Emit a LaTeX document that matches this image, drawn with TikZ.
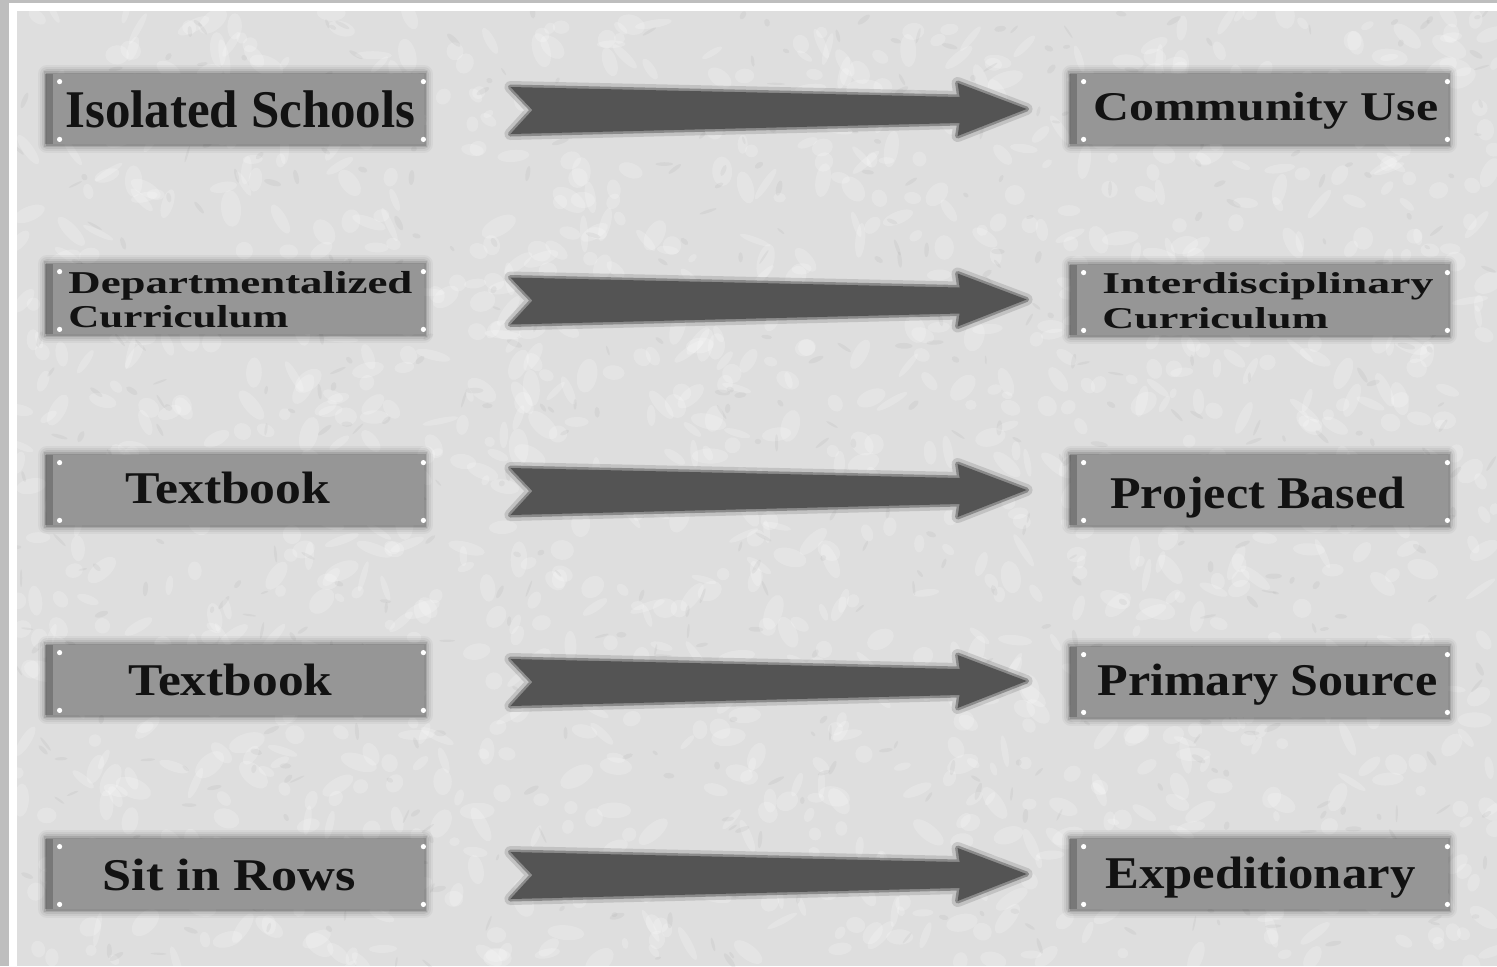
\documentclass[tikz,border=0pt]{standalone}
\usepackage{graphicx}
\usepackage{fontspec}
\setmainfont{Liberation Serif}
\usetikzlibrary{calc}
\definecolor{boxgray}{RGB}{150,150,150}
\definecolor{arrowgray}{RGB}{84,84,84}
\definecolor{paper}{RGB}{222,222,222}
\definecolor{framegray}{RGB}{190,190,190}
\definecolor{ink}{RGB}{18,18,18}
\newcommand\lbltext[3]{{\fontsize{#1}{#1}\selectfont\bfseries\resizebox{#2}{\height}{#3}}}
\newcommand\fatarrow[2]{%
  \path let \p1=(#1.east), \p2=(#2.west), \p3=($(#1.east)!0.5!(#2.west)$) in
    [bigarrow]
    (\x1+43pt,\y3+11pt) -- (\x2-55.5pt,\y3+6pt) -- (\x2-56.5pt,\y3+13pt)
    -- (\x2-22pt,\y3) -- (\x2-56.5pt,\y3-13.5pt) -- (\x2-55.5pt,\y3-7pt)
    -- (\x1+43pt,\y3-12.5pt) -- (\x1+54pt,\y3-0.5pt) -- cycle;
}
\tikzset{
  panel/.style={rectangle, fill=boxgray, minimum width=188.5pt, minimum height=35pt, inner sep=0pt,
    preaction={draw=black, draw opacity=0.04, line width=9pt, line join=round},
    preaction={draw=black, draw opacity=0.05, line width=7pt, line join=round},
    preaction={draw=black, draw opacity=0.07, line width=5pt, line join=round},
    preaction={draw=black, draw opacity=0.10, line width=3pt},
    preaction={draw=black, draw opacity=0.14, line width=1.5pt}},
  lbl/.style={anchor=base west, inner sep=0pt, text=ink},
  bigarrow/.style={fill=arrowgray, draw=arrowgray, draw opacity=0.5, line width=2.5pt, line join=round,
    preaction={draw=arrowgray, draw opacity=0.2, line width=6pt, line join=round}},
  screw/.style={fill=white}
}
\begin{document}
\begin{tikzpicture}[x=0.5pt, y=-0.5pt]
\useasboundingbox (0,0) rectangle (1497,966);
% frame and paper
\fill[framegray] (0,0) rectangle (1497,966);
\fill[white] (9,3) rectangle (1497,966);
\begin{scope}
  \clip (17,11) rectangle (1497,966);
  \fill[paper] (17,11) rectangle (1497,966);
  \pgfmathsetseed{42}
  \foreach \i in {1,...,1400}{
    \pgfmathsetmacro\rx{17+1480*rnd}
    \pgfmathsetmacro\ry{11+955*rnd}
    \pgfmathsetmacro\ra{5+14*rnd}
    \pgfmathsetmacro\rb{3+7*rnd}
    \pgfmathsetmacro\rr{180*rnd}
    \fill[white, opacity=0.2, rotate around={\rr:(\rx,\ry)}] (\rx,\ry) ellipse [x radius=\ra, y radius=\rb];
  }
  \foreach \i in {1,...,600}{
    \pgfmathsetmacro\rx{17+1480*rnd}
    \pgfmathsetmacro\ry{11+955*rnd}
    \pgfmathsetmacro\ra{3+6*rnd}
    \pgfmathsetmacro\rb{1+2*rnd}
    \pgfmathsetmacro\rr{180*rnd}
    \fill[black!45, opacity=0.1, rotate around={\rr:(\rx,\ry)}] (\rx,\ry) ellipse [x radius=\ra, y radius=\rb];
  }
\end{scope}
% panels
\node[panel] (L1) at (235.5,109) {};
\node[panel] (L2) at (235.5,299) {};
\node[panel] (L3) at (235.5,490) {};
\node[panel] (L4) at (235.5,680) {};
\node[panel] (L5) at (235.5,874) {};
\node[panel] (R1) at (1259.5,109) {};
\node[panel] (R2) at (1259.5,300) {};
\node[panel] (R3) at (1259.5,490) {};
\node[panel] (R4) at (1259.5,682) {};
\node[panel] (R5) at (1259.5,874) {};
\foreach \n in {L1,L2,L3,L4,L5,R1,R2,R3,R4,R5}{
  \fill[black, opacity=0.2] ($(\n.north west)+(-2,0)$) rectangle ($(\n.south west)+(6,0)$);
  \fill[screw] ($(\n.north west)+(13,8)$) circle (1.3pt);
  \fill[screw] ($(\n.south west)+(13,-5)$) circle (1.3pt);
  \fill[screw] ($(\n.north east)+(-1,8)$) circle (1.3pt);
  \fill[screw] ($(\n.south east)+(-1,-5)$) circle (1.3pt);
}
% labels
\node[lbl] (tL1) at (65,127) {\lbltext{26.5pt}{175pt}{Isolated Schools}};
\node[lbl] (tL2a) at (68,293) {\lbltext{15.9pt}{172pt}{Departmentalized}};
\node[lbl] (tL2b) at (68,327) {\lbltext{15.9pt}{110pt}{Curriculum}};
\node[lbl] (tL3) at (125,503) {\lbltext{22.7pt}{102.5pt}{Textbook}};
\node[lbl] (tL4) at (128,695) {\lbltext{22.7pt}{102pt}{Textbook}};
\node[lbl] (tL5) at (102,890) {\lbltext{22.7pt}{126.5pt}{Sit in Rows}};
\node[lbl] (tR1) at (1093,120) {\lbltext{20.4pt}{172.5pt}{Community Use}};
\node[lbl] (tR2a) at (1102,293) {\lbltext{15.1pt}{165.5pt}{Interdisciplinary}};
\node[lbl] (tR2b) at (1102,328) {\lbltext{15.1pt}{113pt}{Curriculum}};
\node[lbl] (tR3) at (1110,508) {\lbltext{22.7pt}{147.5pt}{Project Based}};
\node[lbl] (tR4) at (1097,695) {\lbltext{22.7pt}{170pt}{Primary Source}};
\node[lbl] (tR5) at (1105,888) {\lbltext{22.7pt}{155pt}{Expeditionary}};
% arrows
\fatarrow{L1}{R1}
\fatarrow{L2}{R2}
\fatarrow{L3}{R3}
\fatarrow{L4}{R4}
\fatarrow{L5}{R5}
\end{tikzpicture}
\end{document}
